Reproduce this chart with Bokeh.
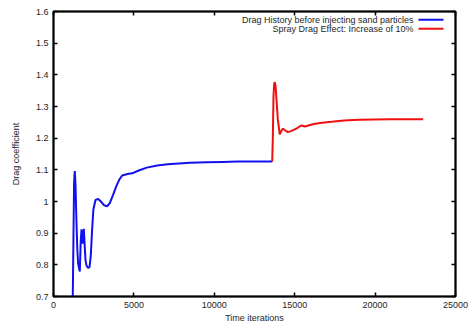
import math
from bokeh.plotting import figure
from bokeh.models import Range1d, FixedTicker, LinearAxis
from bokeh.core.properties import value
from bokeh.embed import file_html
from bokeh.resources import INLINE

# ---- data ----
blue_x = [1200, 1240, 1280, 1325, 1370, 1420, 1480, 1530, 1575, 1636, 1690, 1741, 1775, 1803,
          1845, 1886, 1930, 1990, 2052, 2150, 2239, 2320, 2400, 2480, 2612, 2778, 2950,
          3150, 3337, 3500, 3700, 3900, 4100, 4270, 4600, 4893, 5300, 5800, 6450, 7100,
          7793, 8500, 9500, 10500, 11500, 12500, 13600]
blue_y = [0.700, 0.880, 1.060, 1.096, 1.050, 0.950, 0.850, 0.805, 0.793, 0.779, 0.870, 0.912,
          0.885, 0.867, 0.885, 0.914, 0.870, 0.815, 0.798, 0.790, 0.793, 0.830, 0.910, 0.975,
          1.005, 1.008, 1.000, 0.988, 0.985, 0.995, 1.020, 1.048, 1.070, 1.082, 1.087,
          1.089, 1.098, 1.107, 1.114, 1.118, 1.120, 1.122, 1.124, 1.125, 1.126, 1.126, 1.126]

red_x = [13600, 13640, 13680, 13720, 13760, 13810, 13870, 13950, 14070, 14160, 14260, 14400,
         14570, 14800, 15000, 15150, 15400, 15650, 15900, 16190, 16700, 17300, 18050,
         19000, 19920, 21000, 22000, 22990]
red_y = [1.126, 1.200, 1.330, 1.370, 1.377, 1.365, 1.320, 1.260, 1.212, 1.222, 1.230, 1.225,
         1.219, 1.223, 1.228, 1.232, 1.240, 1.237, 1.241, 1.245, 1.249, 1.252, 1.256,
         1.258, 1.259, 1.260, 1.260, 1.260]

x_ticks = [0, 5000, 10000, 15000, 20000, 25000]
y_ticks = [0.7, 0.8, 0.9, 1.0, 1.1, 1.2, 1.3, 1.4, 1.5, 1.6]
y_tick_labels = ["0.7", "0.8", "0.9", "1", "1.1", "1.2", "1.3", "1.4", "1.5", "1.6"]

series_names = ["Drag History before injecting sand particles",
                "Spray Drag Effect: Increase of 10%"]
series_colors = ["#1010f0", "#f01010"]

FONT = "Liberation Sans"
FS = "9px"
TXT = "#262626"

X0, X1 = 0, 25000
Y0, Y1 = 0.7, 1.6
W, H = 469, 328
BL, BR, BT, BB = 53, 14, 11, 32
FW, FH = W - BL - BR, H - BT - BB   # frame size in px

p = figure(width=W, height=H, output_backend="svg", toolbar_location=None,
           x_range=Range1d(X0, X1), y_range=Range1d(Y0, Y1),
           min_border_left=BL, min_border_right=BR, min_border_top=BT, min_border_bottom=BB,
           x_axis_label="Time iterations", y_axis_label="Drag coefficient")
p.xgrid.grid_line_color = None
p.ygrid.grid_line_color = None
p.border_fill_color = "white"
p.background_fill_color = "white"
p.outline_line_color = "black"
p.outline_line_width = 2

def style_axis(ax, ticks):
    ax.ticker = FixedTicker(ticks=ticks)
    ax.major_tick_in = 4
    ax.major_tick_out = 0
    ax.minor_tick_in = 0
    ax.minor_tick_out = 0
    ax.major_tick_line_width = 1.5
    ax.major_tick_line_color = "black"
    ax.axis_line_width = 1.5
    ax.axis_line_color = "black"

for ax, ticks in ((p.xaxis[0], x_ticks), (p.yaxis[0], y_ticks)):
    style_axis(ax, ticks)
    ax.major_label_text_font = FONT
    ax.major_label_text_font_size = FS
    ax.major_label_text_color = TXT
    ax.major_label_standoff = 5
    ax.axis_label_text_font = FONT
    ax.axis_label_text_font_size = FS
    ax.axis_label_text_font_style = "normal"
    ax.axis_label_text_color = TXT
p.xaxis[0].axis_label_standoff = 2
p.yaxis[0].axis_label_standoff = 12
p.yaxis[0].major_label_overrides = {t: l for t, l in zip(y_ticks, y_tick_labels)}

# mirrored axes (ticks only) on top and right edges
for side, ticks in (("above", x_ticks), ("right", y_ticks)):
    mirror = LinearAxis()
    style_axis(mirror, ticks)
    mirror.major_label_text_font_size = "7px"
    mirror.major_label_text_color = None
    mirror.major_label_standoff = 0
    p.add_layout(mirror, side)

p.line(blue_x, blue_y, line_color=series_colors[0], line_width=2)
p.line(red_x, red_y, line_color=series_colors[1], line_width=2)

# legend: right-aligned text with sample line on the right, placed from the top-right corner
def px_to_x(dx):   # pixels left of the right frame edge -> data x
    return X1 - dx / FW * (X1 - X0)

def px_to_y(dy):   # pixels below the top frame edge -> data y
    return Y1 - dy / FH * (Y1 - Y0)

for i, (name, col) in enumerate(zip(series_names, series_colors)):
    dy = 8.3 + 9 * i
    p.text(x=[px_to_x(42)], y=[px_to_y(dy)], text=[name],
           text_font=value(FONT), text_font_size=FS, text_color=TXT,
           text_align="right", text_baseline="middle")
    p.line([px_to_x(37), px_to_x(12)], [px_to_y(dy), px_to_y(dy)],
           line_color=col, line_width=2)

open("out.html", "w").write(file_html(p, INLINE))
